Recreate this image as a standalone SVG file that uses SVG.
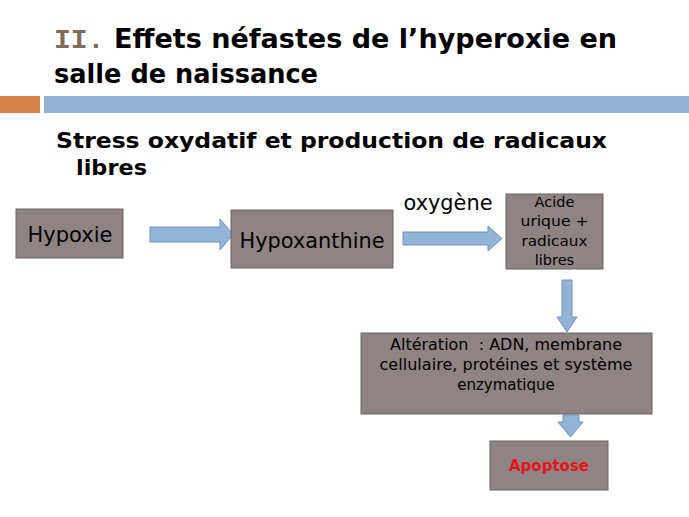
<svg xmlns="http://www.w3.org/2000/svg" width="689" height="517" viewBox="0 0 689 517">
<defs>
<style>
.t{font-family:"DejaVu Sans","Liberation Sans",sans-serif;fill:#000}
.b{font-weight:bold}
.box{fill:#8e8484;stroke:#666;stroke-width:1}
.arr{fill:#94b4d6;stroke:#6f93bb;stroke-width:1}
</style>
</defs>
<rect width="689" height="517" fill="#fff"/>
<g id="title">
<text class="t b" x="54" y="48" font-size="27"><tspan fill="#7d6b5c" font-family="'Liberation Mono',monospace" font-size="28">II.</tspan><tspan x="114"> </tspan><tspan x="114" textLength="503" lengthAdjust="spacingAndGlyphs">Effets néfastes de l’hyperoxie en</tspan></text>
<text class="t b" x="54" y="83" font-size="27" textLength="264" lengthAdjust="spacingAndGlyphs">salle de naissance</text>
</g>
<g id="bars">
<rect x="0" y="96" width="40" height="17" fill="#d9814a"/>
<rect x="44" y="96" width="645" height="17" fill="#94b3d3"/>
</g>
<g id="subtitle">
<text class="t b" x="56" y="148" font-size="22" textLength="551" lengthAdjust="spacingAndGlyphs">Stress oxydatif et production de radicaux</text>
<text class="t b" x="76" y="175" font-size="22" textLength="71" lengthAdjust="spacingAndGlyphs">libres</text>
</g>
<g id="connectors">
<path class="arr" d="M150,227 H220 V219 L233,234.5 L220,250 V242 H150 Z"/>
<path class="arr" d="M403,232 H488 V226 L502,238.5 L488,251 V245 H403 Z"/>
<path class="arr" d="M562,280 H572 V317 H577 L567,332 L557,317 H562 Z"/>
<path class="arr" d="M563,415 H579 V422 H583 L570.5,437 L558,422 H563 Z"/>
<text class="t" x="448" y="210" font-size="21" text-anchor="middle" textLength="89" lengthAdjust="spacingAndGlyphs">oxygène</text>
</g>
<g id="hypoxie">
<rect class="box" x="16" y="209" width="107" height="49"/>
<text class="t" x="70" y="242" font-size="21" text-anchor="middle">Hypoxie</text>
</g>
<g id="hypoxanthine">
<rect class="box" x="231" y="210" width="162" height="58"/>
<text class="t" x="312" y="248" font-size="21" text-anchor="middle" textLength="145" lengthAdjust="spacingAndGlyphs">Hypoxanthine</text>
</g>
<g id="acide">
<rect class="box" x="506" y="194" width="97" height="75"/>
<text class="t" x="554.5" y="207" font-size="14.5" text-anchor="middle">Acide</text>
<text class="t" x="554.5" y="226" font-size="14.5" text-anchor="middle" textLength="68" lengthAdjust="spacingAndGlyphs">urique +</text>
<text class="t" x="554.5" y="246" font-size="14.5" text-anchor="middle" textLength="66" lengthAdjust="spacingAndGlyphs">radicaux</text>
<text class="t" x="554.5" y="265" font-size="14.5" text-anchor="middle">libres</text>
</g>
<g id="alteration">
<rect class="box" x="361" y="333" width="291" height="81"/>
<text class="t" x="506" y="350" font-size="15" text-anchor="middle" textLength="232" lengthAdjust="spacingAndGlyphs" style="white-space:pre">Altération  : ADN, membrane</text>
<text class="t" x="506" y="370" font-size="15" text-anchor="middle" textLength="253" lengthAdjust="spacingAndGlyphs">cellulaire, protéines et système</text>
<text class="t" x="506" y="390" font-size="15" text-anchor="middle">enzymatique</text>
</g>
<g id="apoptose">
<rect class="box" x="490" y="441" width="118" height="49"/>
<text class="t b" x="549" y="471" font-size="15" text-anchor="middle" style="fill:#e8141c">Apoptose</text>
</g>
</svg>
